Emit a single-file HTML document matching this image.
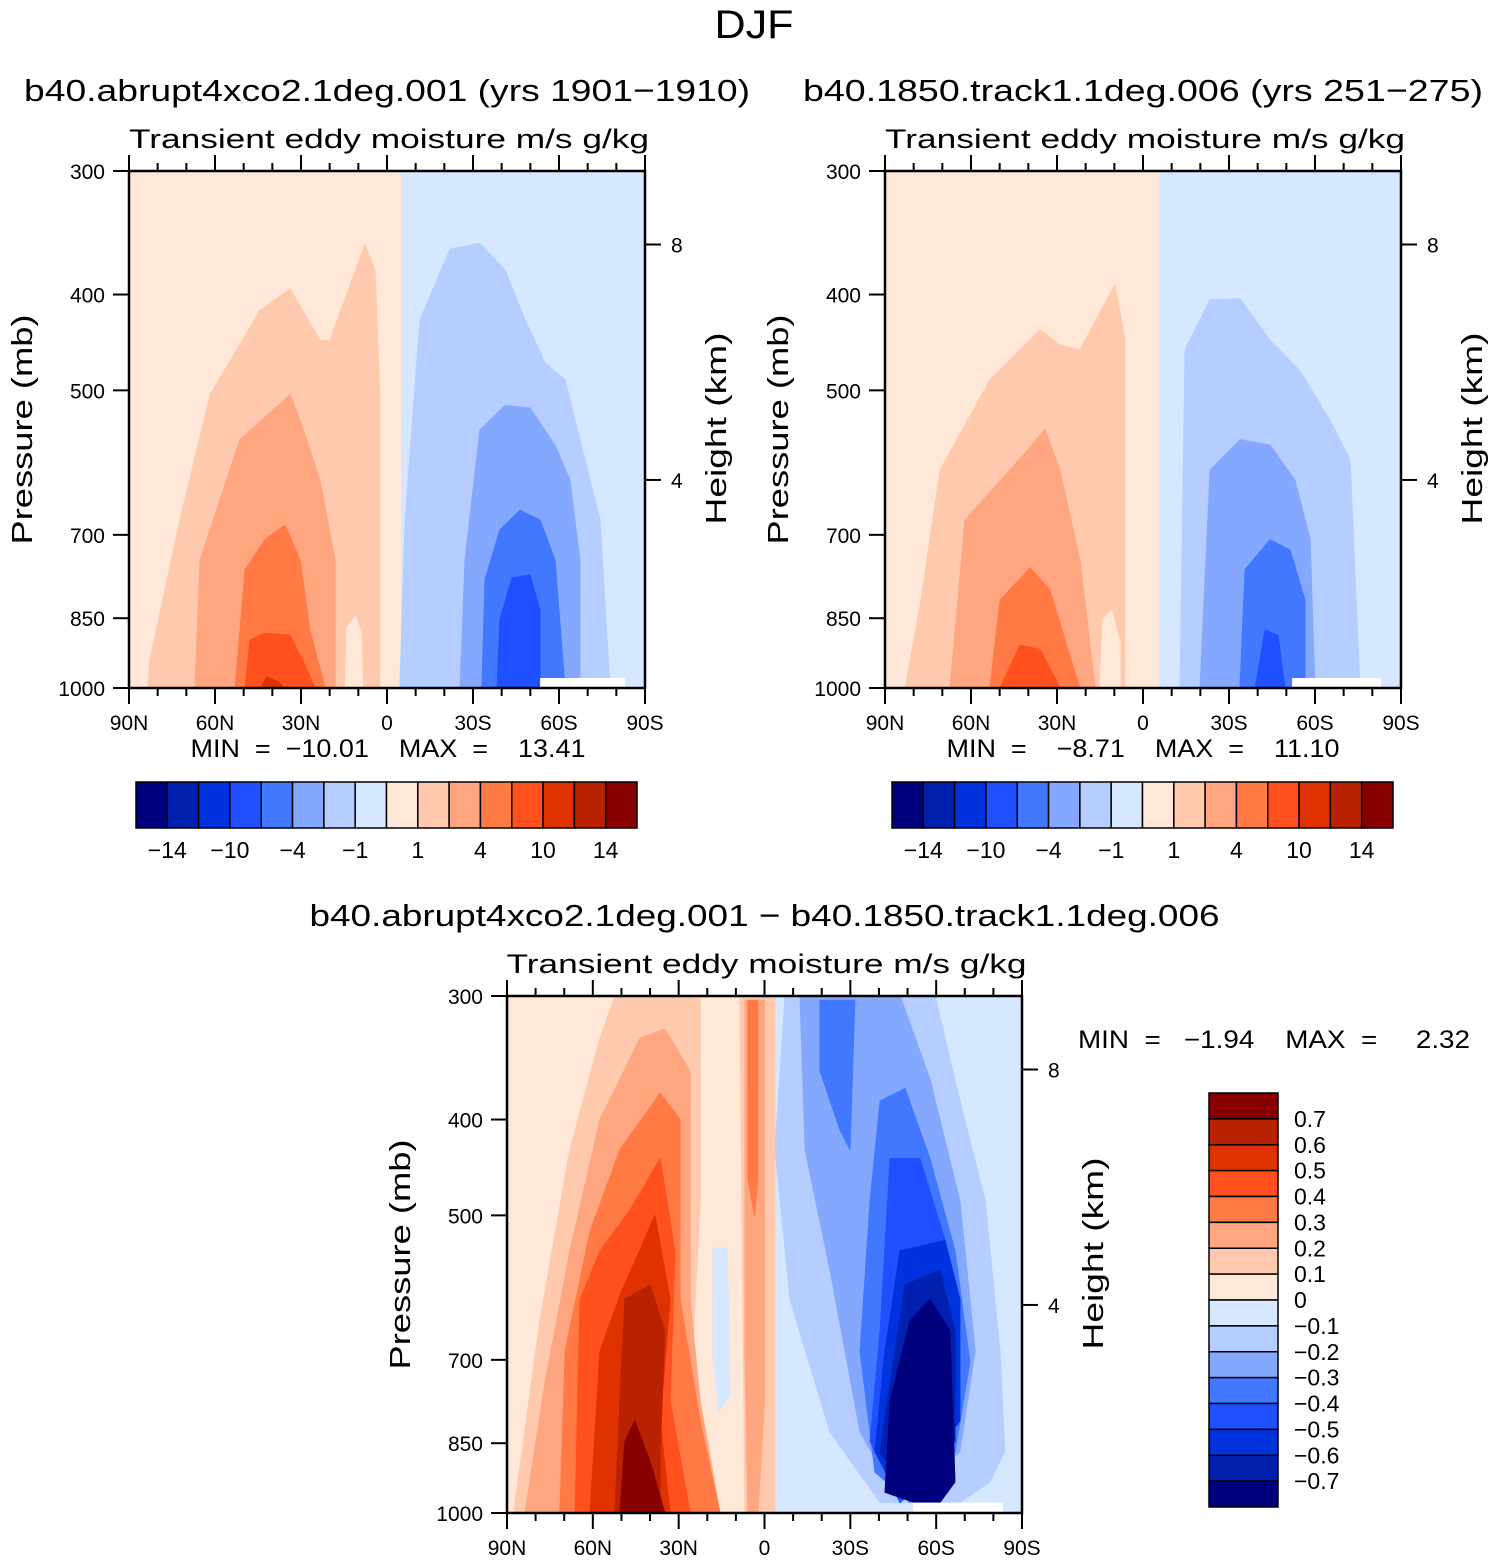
<!DOCTYPE html>
<html><head><meta charset="utf-8"><style>
html,body{margin:0;padding:0;background:#fff;}
svg text{font-family:"Liberation Sans",sans-serif;fill:#000;white-space:pre;}
</style></head><body>
<svg id="fig" width="1493" height="1561" viewBox="0 0 1493 1561" xmlns="http://www.w3.org/2000/svg">
<text x="754" y="38" font-size="40" text-anchor="middle" textLength="79" lengthAdjust="spacingAndGlyphs">DJF</text>
</svg>
<script>
const colors = ['#00007f','#0020b0','#0033dd','#1e50ff','#4178ff','#85a8ff','#b5cdff','#d5e8ff','#ffe8d7','#ffc9ad','#ffa680','#ff7a45','#ff501e','#e03200','#b82200','#880000'];
const topCbarLabels = ['−14','−10','−4','−1','1','4','10','14'];
const diffCbarLabels = ['0.7','0.6','0.5','0.4','0.3','0.2','0.1','0','−0.1','−0.2','−0.3','−0.4','−0.5','−0.6','−0.7'];
const pTicks = [300,400,500,700,850,1000];
const latTicks = [90,60,30,0,-30,-60,-90];
const latTickLabels = ['90N','60N','30N','0','30S','60S','90S'];
const hTicks = [8,4];
const hTickPressures = [356,616];

const tlBgSplit = -4.9;
const tlRegions = [
 [9,[[83.4,1000],[82.7,937],[72.2,676],[61.7,505],[44.3,415],[33.8,395],[23.4,445],[19.9,445],[7.7,356],[4.2,378],[2.5,505],[2.5,1000]]],
 [10,[[67,1000],[65.2,742],[51.3,561],[33.8,505],[30.3,536],[23.4,616],[18.1,742],[18.1,1000]]],
 [8,[[14.6,1000],[14,870],[11,845],[9,880],[8.5,1000]]],
 [11,[[53,1000],[49.5,759],[42.6,708],[35.6,684],[30.3,742],[26.9,874],[21.6,1000]]],
 [12,[[49.5,1000],[47.8,894],[42.6,880],[33.8,884],[28.6,948],[25.1,1000]]],
 [13,[[44,1000],[42,975],[38,985],[36,1000]]],
 [6,[[-4.5,1000],[-6.3,676],[-11.5,424],[-22,360],[-32.4,355],[-41.2,378],[-48.1,424],[-55.1,469],[-62.1,488],[-67.3,561],[-74.3,676],[-77.8,1000]]],
 [5,[[-25.5,1000],[-27.2,742],[-32.4,548],[-41.2,518],[-49.9,521],[-58.6,568],[-63.8,616],[-67.3,742],[-67.3,1000]]],
 [4,[[-33.1,1000],[-34.2,777],[-39.4,692],[-46.4,661],[-53.4,676],[-58.6,742],[-62.1,1000]]],
 [3,[[-38.4,1000],[-39.4,853],[-43.6,774],[-49.9,768],[-53.4,834],[-53.4,1000]]]
];
const tlMissing = [[-53.4,977],[-83,1000]];

const trBgSplit = -5.6;
const trRegions = [
 [9,[[83,1000],[77.4,815],[70.8,602],[53.4,488],[35.9,434],[29,450],[22,455],[9.8,391],[6.3,445],[6.3,1000]]],
 [10,[[67.3,1000],[62.1,676],[46.4,602],[34.2,548],[29,602],[22,742],[16.7,1000]]],
 [8,[[15,1000],[14,853],[11,834],[8,900],[8,1000]]],
 [11,[[53.4,1000],[49.9,815],[39.4,756],[32.4,796],[27.2,894],[22,1000]]],
 [12,[[49.9,1000],[42.9,905],[35.9,914],[29,1000]]],
 [6,[[-12.9,1000],[-14.7,455],[-23.4,405],[-33.8,404],[-44.3,445],[-54.8,478],[-65.2,536],[-72.2,588],[-75.7,1000]]],
 [5,[[-19.9,1000],[-23.4,602],[-33.8,561],[-44.3,568],[-53,616],[-58.3,708],[-60,1000]]],
 [4,[[-33.8,1000],[-35.6,759],[-44.3,708],[-51.3,725],[-56.5,815],[-56.5,1000]]],
 [3,[[-39.1,1000],[-42.6,874],[-47.1,884],[-49.5,1000]]]
];
const trMissing = [[-52,977],[-83,1000]];

const dBgSplit = -4;
const dRegions = [
 [9,[[87.2,976],[78.5,639],[68,429],[57.5,331],[52.3,300],[22.5,300],[22.5,483],[26,770],[22.5,1000],[87.2,1000]]],
 [9,[[8.6,300],[-3.7,300],[-3.7,1000],[6.8,1000]]],
 [10,[[6.8,303],[0,303],[0,770],[2.3,1000],[5.8,1000],[6.8,700]]],
 [11,[[5.8,303],[2.3,303],[2.3,460],[3.5,500],[5.8,460]]],
 [7,[[18,540],[13,540],[12,760],[16,790],[18,700]]],
 [10,[[83.7,1000],[76.7,737],[68,543],[57.5,400],[43.5,331],[34.8,324],[26,357],[26,608],[22.5,770],[15.6,1000]]],
 [11,[[71.5,1000],[69.7,686],[61,519],[50.5,429],[36.5,376],[29.5,400],[29.5,608],[22.5,807],[15.6,1000]]],
 [12,[[66.2,1000],[64.5,608],[57.5,543],[47,494],[36.5,438],[31.3,543],[33,770],[26,1000]]],
 [13,[[61,1000],[57.5,686],[50.5,602],[38.3,500],[33,608],[36.5,807],[33,1000]]],
 [14,[[52.3,1000],[50.5,770],[48.8,608],[40,588],[34.8,654],[36.5,867],[36.5,1000]]],
 [15,[[50.5,1000],[48.8,846],[45.3,807],[40,887],[34.8,1000]]],
 [6,[[-7.2,300],[-59.6,300],[-68.3,383],[-77.1,483],[-82.3,686],[-84,867],[-78.8,930],[-68.3,976],[-40.4,976],[-22.9,828],[-8.9,608],[-3.7,429]]],
 [5,[[-12.4,300],[-47.4,300],[-57.8,364],[-68.3,483],[-73.6,686],[-68.3,867],[-47.4,976],[-33.4,828],[-22.9,568],[-14.2,429]]],
 [4,[[-19.4,303],[-31.6,303],[-29.9,429],[-26.4,410],[-19.4,357]]],
 [4,[[-40.4,383],[-49.1,372],[-57.8,438],[-66.6,543],[-71.8,703],[-66.6,867],[-50.9,976],[-38.6,909],[-33.4,686],[-36.9,483]]],
 [3,[[-43.9,438],[-54.3,438],[-63.1,530],[-66.6,654],[-64.8,867],[-47.4,976],[-36.9,846],[-40.4,654]]],
 [2,[[-47.4,543],[-63.1,530],[-68.3,608],[-68.3,807],[-47.4,965],[-38.6,867],[-42.1,686]]],
 [1,[[-49.1,588],[-61.3,568],[-66.6,654],[-66.6,846],[-50.9,965],[-40.4,867]]],
 [0,[[-50.9,639],[-57.8,608],[-64.8,654],[-66.6,930],[-61.3,976],[-52.6,976],[-42.1,953],[-43.9,770]]]
];
const dMissing = [[-51.9,976],[-83.4,1000]];

const NS='http://www.w3.org/2000/svg';
const svg=document.getElementById('fig');
function el(tag,attrs,parent){const e=document.createElementNS(NS,tag);for(const k in attrs)e.setAttribute(k,attrs[k]);(parent||svg).appendChild(e);return e;}
function txt(s,x,y,size,anchor,parent,len){const t=el('text',{x:x,y:y,'font-size':size,'text-anchor':anchor||'middle'},parent);if(len){t.setAttribute('textLength',len);t.setAttribute('lengthAdjust','spacingAndGlyphs');}t.textContent=s;return t;}

function plot(x0,y0,w,h,bgSplit,regions,missing,title,titleLen,prefix){
 const g=el('g',{});
 
 
 const X=lat=>x0+(90-lat)/180*w;
 const Y=p=>y0+h*Math.log(p/300)/Math.log(1000/300);
 const bgL=el('rect',{x:x0,y:y0,width:X(bgSplit)-x0,height:h,fill:colors[8]},g);
 
 
 const bgR=el('rect',{x:X(bgSplit),y:y0,width:x0+w-X(bgSplit),height:h,fill:colors[7]},g);
 
 
 regions.forEach((r,i)=>{
  const pts=r[1].map(q=>X(q[0]).toFixed(1)+','+Y(q[1]).toFixed(1)).join(' ');
  const pg=el('polygon',{points:pts,fill:colors[r[0]],stroke:colors[r[0]],'stroke-width':1,'stroke-linejoin':'round'},g);
  
  
 });
 const m=el('rect',{x:X(missing[0][0]),y:Y(missing[0][1]),width:X(missing[1][0])-X(missing[0][0]),height:Y(missing[1][1])-Y(missing[0][1]),fill:'#fff'},g);
 
 
 const fr=el('rect',{x:x0,y:y0,width:w,height:h,fill:'none',stroke:'#000','stroke-width':2.5},g);
 
 
 for(let lat=90;lat>=-90;lat-=10){
  const major=lat%30===0; const L=major?16:8; const x=X(lat);
  el('line',{x1:x,y1:y0,x2:x,y2:y0-L,stroke:'#000','stroke-width':2},g);
  el('line',{x1:x,y1:y0+h,x2:x,y2:y0+h+L,stroke:'#000','stroke-width':2},g);
 }
 latTicks.forEach((lat,i)=>{const t=txt(latTickLabels[i],X(lat),y0+h+42,21,'middle',g);
  
  });
 pTicks.forEach(p=>{const y=Y(p);el('line',{x1:x0,y1:y,x2:x0-16,y2:y,stroke:'#000','stroke-width':2},g);
  const t=txt(String(p),x0-24,y+8,21,'end',g);
  
  });
 hTicks.forEach((hk,i)=>{const y=Y(hTickPressures[i]);el('line',{x1:x0+w,y1:y,x2:x0+w+16,y2:y,stroke:'#000','stroke-width':2},g);
  const t=txt(String(hk),x0+w+26,y+8,21,'start',g);
  
  });
 const yt=txt('Pressure (mb)',0,0,29,'middle',g,230);yt.setAttribute('transform','translate('+(x0-97)+','+(y0+h/2)+') rotate(-90)');
 
 
 const ht=txt('Height (km)',0,0,29,'middle',g,192);ht.setAttribute('transform','translate('+(x0+w+81)+','+(y0+h/2-1)+') rotate(-90)');
 
 
 const st=txt('Transient eddy moisture m/s g/kg',x0+w/2+2,y0-23,27,'middle',g,520);
 
 
 const tt=txt(title,x0+w/2,y0-70,31,'middle',g,titleLen);
 
 
 return tt;
}

plot(129,171,516,517,tlBgSplit,tlRegions,tlMissing,'b40.abrupt4xco2.1deg.001 (yrs 1901−1910)',726,'abrupt');
const t2=plot(885,171,516,517,trBgSplit,trRegions,trMissing,'b40.1850.track1.1deg.006 (yrs 251−275)',680,'control');
t2.setAttribute('x',1143);
plot(507,996,515,517,dBgSplit,dRegions,dMissing,'b40.abrupt4xco2.1deg.001 − b40.1850.track1.1deg.006',910,'diff');

function minmax(s,x,y,len,name){const t=txt(s,x,y,25,'middle',null,len);
 
 }
minmax('MIN  =  −10.01    MAX  =    13.41',388,757,395,'abrupt-min-max');
minmax('MIN  =    −8.71    MAX  =    11.10',1143,757,393,'control-min-max');
minmax('MIN  =   −1.94    MAX  =     2.32',1274,1048,392,'diff-min-max');

function hbar(x0,y0,w,h,prefix){
 const bw=w/colors.length;
 colors.forEach((c,i)=>{const r=el('rect',{x:x0+i*bw,y:y0,width:bw,height:h,fill:c,stroke:'#000','stroke-width':1.5});
  
  });
 topCbarLabels.forEach((s,k)=>{const t=txt(s,x0+(2*k+1)*bw,y0+h+30,23,'middle');
  
  });
}
hbar(136,782,501,46,'abrupt');
hbar(892,782,501,46,'control');
(function(){
 const x0=1209,y0=1093,w=69,h=414,bh=h/colors.length;
 colors.forEach((c,i)=>{const r=el('rect',{x:x0,y:y0+i*bh,width:w,height:bh,fill:colors[colors.length-1-i],stroke:'#000','stroke-width':1.5});
  
  });
 diffCbarLabels.forEach((s,k)=>{const t=txt(s,x0+w+16,y0+(k+1)*bh+8,23,'start');
  
  });
})();
</script>
</body></html>
